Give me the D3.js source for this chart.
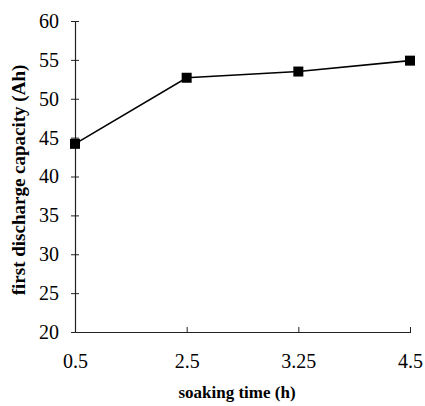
<!DOCTYPE html>
<html>
<head>
    <meta charset="UTF-8">
    <title>first discharge capacity</title>
    <script src="https://d3js.org/d3.v7.min.js"></script>
    <style>
        body { margin: 0; background: #fff; }
    </style>
</head>
<body>
    <script>
        // soaking time (h) and first discharge capacity (Ah)
        var times = ["0.5", "2.5", "3.25", "4.5"];
        var capacity = [44.2, 52.7, 53.5, 54.9];
        var yTicks = [20, 25, 30, 35, 40, 45, 50, 55, 60];

        var width = 425, height = 406;
        var plotLeft = 75, plotRight = 410, plotTop = 21, plotBottom = 332;
        var font = "'Liberation Serif', 'Times New Roman', serif";

        var svg = d3.select("body").append("svg")
            .attr("width", width)
            .attr("height", height);

        var x = d3.scalePoint().domain(times).range([plotLeft, plotRight]);
        var y = d3.scaleLinear().domain([20, 60]).range([plotBottom, plotTop]);

        // y axis, ticks cross the line
        var yAxis = svg.append("g")
            .attr("transform", "translate(" + plotLeft + ",0)")
            .call(d3.axisLeft(y).tickValues(yTicks).tickSize(0).tickPadding(16));
        yAxis.select(".domain").attr("stroke", "#222").attr("stroke-width", 1.2);
        yAxis.selectAll(".tick line")
            .attr("x1", -4).attr("x2", 4)
            .attr("stroke", "#222");
        yAxis.selectAll(".tick text")
            .attr("font-family", font)
            .attr("font-size", 20)
            .attr("fill", "#000");

        // x axis, inner ticks
        var xAxis = svg.append("g")
            .attr("transform", "translate(0," + plotBottom + ")")
            .call(d3.axisBottom(x).tickSize(0).tickPadding(22));
        xAxis.select(".domain").attr("stroke", "#222").attr("stroke-width", 1.2);
        xAxis.selectAll(".tick line")
            .attr("y1", -5).attr("y2", 1)
            .attr("stroke", "#222");
        xAxis.selectAll(".tick text")
            .attr("font-family", font)
            .attr("font-size", 20)
            .attr("fill", "#000");

        var data = times.map(function (t, i) { return { t: t, v: capacity[i] }; });

        var line = d3.line()
            .x(function (d) { return x(d.t); })
            .y(function (d) { return y(d.v); });

        svg.append("path")
            .attr("d", line(data))
            .attr("fill", "none")
            .attr("stroke", "#000")
            .attr("stroke-width", 1.6);

        svg.selectAll("rect.pt")
            .data(data)
            .enter().append("rect")
            .attr("class", "pt")
            .attr("x", function (d) { return x(d.t) - 5; })
            .attr("y", function (d) { return y(d.v) - 5; })
            .attr("width", 10)
            .attr("height", 10)
            .attr("fill", "#000");

        // axis titles
        svg.append("text")
            .attr("x", 237)
            .attr("y", 398)
            .attr("text-anchor", "middle")
            .attr("font-family", font)
            .attr("font-weight", "bold")
            .attr("font-size", 17)
            .text("soaking time (h)");

        svg.append("text")
            .attr("transform", "translate(25,180) rotate(-90)")
            .attr("text-anchor", "middle")
            .attr("font-family", font)
            .attr("font-weight", "bold")
            .attr("font-size", 19)
            .text("first discharge capacity (Ah)");
    </script>
</body>
</html>
